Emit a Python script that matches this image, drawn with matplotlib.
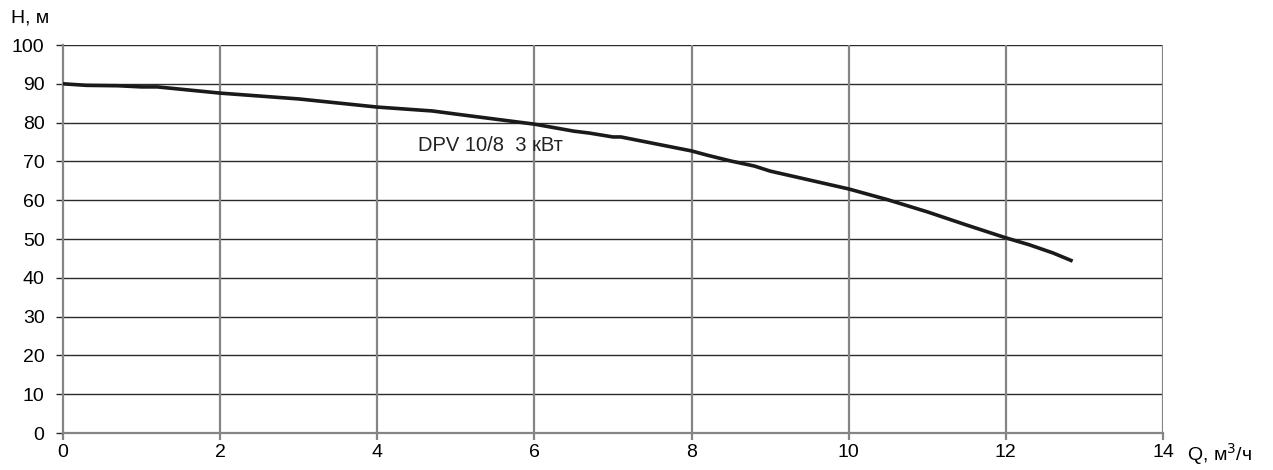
import matplotlib
matplotlib.use("Agg")
import matplotlib.pyplot as plt
import numpy as np

plt.rcParams['font.family'] = ['Liberation Sans', 'DejaVu Sans']

# pump curve DPV 10/8 3 kW
q = [0.0, 0.3, 0.7, 1.0, 1.2, 2.0, 3.0, 4.0, 4.7, 5.0, 6.0, 6.5, 6.7, 7.0, 7.1,
     7.5, 8.0, 8.2, 8.5, 8.8, 9.0, 10.0, 10.5, 11.0, 11.5, 12.0, 12.3, 12.6, 12.85]
h = [90.0, 89.6, 89.5, 89.2, 89.2, 87.6, 86.1, 84.0, 83.0, 82.2, 79.6, 77.8, 77.3,
     76.3, 76.3, 74.7, 72.7, 71.6, 70.1, 68.8, 67.5, 62.9, 60.1, 57.0, 53.6, 50.3,
     48.5, 46.4, 44.3]

x_ticks = [0, 2, 4, 6, 8, 10, 12, 14]
y_ticks = [0, 10, 20, 30, 40, 50, 60, 70, 80, 90, 100]
curve_label = "DPV 10/8  3 кВт"

fig = plt.figure(figsize=(12.73, 4.70), dpi=100)
ax = fig.add_axes([63 / 1273, 1 - 433 / 470, 1100 / 1273, 388 / 470])

ax.set_xlim(0, 14)
ax.set_ylim(0, 100)

for y in y_ticks[1:]:
    ax.axhline(y, color='#2a2a2a', lw=1.0, zorder=1)
for x in x_ticks[1:]:
    ax.axvline(x, color='#858585', lw=1.6, zorder=1)

ax.plot(q, h, color='#1a1a1a', lw=2.6, solid_capstyle='butt', zorder=3)
ax.text(4.52, 74.2, curve_label, fontsize=14.5, va='center', ha='left', color='#222222')

for s in ['top', 'right']:
    ax.spines[s].set_visible(False)
for s in ['left', 'bottom']:
    ax.spines[s].set_color('#858585')
    ax.spines[s].set_linewidth(1.6)

ax.set_xticks(x_ticks)
ax.set_yticks(y_ticks)
ax.tick_params(axis='y', direction='out', length=4.8, width=1.0, color='#2a2a2a',
               labelsize=14, pad=8.5)
ax.tick_params(axis='x', direction='out', length=5.2, width=1.6, color='#858585',
               labelsize=14, pad=3)

fig.text(11 / 1273, 1 - 18 / 470, "H, м", fontsize=14, va='center', ha='left')
fig.text(1187 / 1273, 1 - 454 / 470, "Q, м$^3$/ч", fontsize=14, va='center', ha='left')

fig.savefig("out.png", dpi=100)
